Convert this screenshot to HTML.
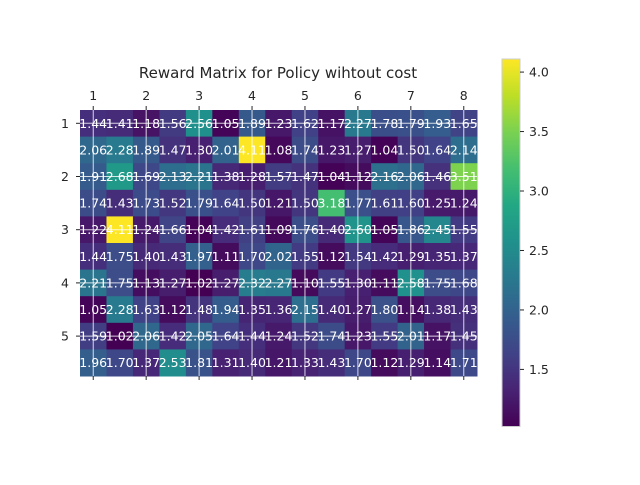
<!DOCTYPE html>
<html><head><meta charset="utf-8"><style>
body{margin:0;background:#fff;}
svg{font-family:"DejaVu Sans","Liberation Sans",sans-serif;}
</style></head><body>
<svg id="chart" width="640" height="480" viewBox="0 0 640 480" xmlns="http://www.w3.org/2000/svg">
<rect width="640" height="480" fill="#fff"/>
<text x="278" y="78" text-anchor="middle" font-size="15" fill="#262626">Reward Matrix for Policy wihtout cost</text>
<g id="cells"></g><g id="labels"></g><g id="grid"></g><g id="axes"></g><g id="cbar"></g>
</svg>
<script>
const rowValues0 = [1.44,1.41,1.18,1.56,2.56,1.05,1.89,1.23,1.62,1.17,2.27,1.78,1.79,1.93,1.65];
const rowValues1 = [2.06,2.28,1.89,1.47,1.30,2.01,4.11,1.08,1.74,1.23,1.27,1.04,1.50,1.64,2.14];
const rowValues2 = [1.91,2.68,1.69,2.13,2.21,1.38,1.28,1.57,1.47,1.04,1.12,2.16,2.06,1.46,3.51];
const rowValues3 = [1.74,1.43,1.73,1.52,1.79,1.64,1.50,1.21,1.50,3.18,1.77,1.61,1.60,1.25,1.24];
const rowValues4 = [1.22,4.11,1.24,1.66,1.04,1.42,1.61,1.09,1.76,1.40,2.60,1.05,1.86,2.45,1.55];
const rowValues5 = [1.44,1.75,1.40,1.43,1.97,1.11,1.70,2.02,1.55,1.12,1.54,1.42,1.29,1.35,1.37];
const rowValues6 = [2.21,1.75,1.13,1.27,1.02,1.27,2.32,2.27,1.10,1.55,1.30,1.11,2.58,1.75,1.68];
const rowValues7 = [1.05,2.28,1.63,1.12,1.48,1.94,1.35,1.36,2.15,1.40,1.27,1.80,1.14,1.38,1.43];
const rowValues8 = [1.59,1.02,2.06,1.42,2.05,1.64,1.44,1.24,1.52,1.74,1.23,1.55,2.01,1.17,1.45];
const rowValues9 = [1.96,1.70,1.37,2.53,1.81,1.31,1.40,1.21,1.33,1.43,1.70,1.12,1.29,1.14,1.71];
const xTickLabels = ["1","2","3","4","5","6","7","8"];
const yTickLabels = ["1","2","3","4","5"];
const cbarTicks = [1.5,2.0,2.5,3.0,3.5,4.0];

const rows=[rowValues0,rowValues1,rowValues2,rowValues3,rowValues4,rowValues5,rowValues6,rowValues7,rowValues8,rowValues9];
const NS="http://www.w3.org/2000/svg";
const nR=rows.length, nC=rows[0].length;
const X0=80,X1=477,Y0=110,Y1=376;
const cw=(X1-X0)/nC, ch=(Y1-Y0)/nR;
const all=rows.flat();
const vmin=Math.min(...all), vmax=Math.max(...all);
const vir=[[68,1,84],[72,35,116],[64,67,135],[52,94,141],[41,120,142],[32,144,140],[34,167,132],[68,190,112],[121,209,81],[189,222,38],[253,231,37]];
function cmap(t){t=Math.max(0,Math.min(1,t));const p=t*(vir.length-1),i=Math.min(Math.floor(p),vir.length-2),f=p-i;
const c=vir[i].map((a,k)=>Math.round(a+(vir[i+1][k]-a)*f));return `rgb(${c})`;}
function xs(c){return X0+c*cw;}
function ys(r){return Y0+r*ch;}
function mk(tag,attrs,parent){const e=document.createElementNS(NS,tag);for(const k in attrs)e.setAttribute(k,attrs[k]);document.getElementById(parent).appendChild(e);return e;}
rows.forEach((row,r)=>row.forEach((v,c)=>{
 const rc=mk('rect',{x:xs(c),y:ys(r),width:cw+0.5,height:ch+0.5,fill:cmap((v-vmin)/(vmax-vmin))},'cells');
 
 
 const t=mk('text',{x:xs(c)+cw/2,y:ys(r)+ch/2+4.5,'text-anchor':'middle','font-size':'12.5',fill:'#fff'},'labels');
 t.textContent=v.toFixed(2);
 
 
}));
xTickLabels.forEach((l,i)=>{const x=xs(i*2)+cw/2;
 mk('line',{x1:x,x2:x,y1:Y0,y2:Y1,stroke:'#fff','stroke-opacity':0.8,'stroke-width':1},'grid');
 mk('line',{x1:x,x2:x,y1:Y0-4,y2:Y0,stroke:'#262626'},'axes');
 mk('line',{x1:x,x2:x,y1:Y1,y2:Y1+4,stroke:'#262626'},'axes');
 const t=mk('text',{x:x,y:Y0-10,'text-anchor':'middle','font-size':'12.5',fill:'#262626'},'axes');t.textContent=l;
 
 
});
yTickLabels.forEach((l,i)=>{const y=ys(i*2)+ch/2;
 mk('line',{x1:X0,x2:X1,y1:y,y2:y,stroke:'#fff','stroke-opacity':0.8,'stroke-width':1},'grid');
 mk('line',{x1:X0-4,x2:X0,y1:y,y2:y,stroke:'#262626'},'axes');
 const t=mk('text',{x:X0-11,y:y+4.5,'text-anchor':'end','font-size':'12.5',fill:'#262626'},'axes');t.textContent=l;
 
 
});
// colorbar
const CX=502,CW=18,CT=59,CB=426.5;
const defs=mk('defs',{},'cbar');
const g=document.createElementNS(NS,'linearGradient');g.setAttribute('id','vg');g.setAttribute('x1','0');g.setAttribute('y1','1');g.setAttribute('x2','0');g.setAttribute('y2','0');defs.appendChild(g);
for(let i=0;i<=20;i++){const s=document.createElementNS(NS,'stop');s.setAttribute('offset',i/20);s.setAttribute('stop-color',cmap(i/20));g.appendChild(s);}
const cb=mk('rect',{x:CX,y:CT,width:CW,height:CB-CT,fill:'url(#vg)',stroke:'#ccc','stroke-width':1},'cbar');


function cy(v){return CB-(v-vmin)/(vmax-vmin)*(CB-CT);}
cbarTicks.forEach(v=>{const y=cy(v);
 mk('line',{x1:CX+CW,x2:CX+CW+4,y1:y,y2:y,stroke:'#262626'},'cbar');
 const t=mk('text',{x:CX+CW+9,y:y+4.5,'font-size':'12.5',fill:'#262626'},'cbar');t.textContent=v.toFixed(1);
 
 
});
</script>
</body></html>
